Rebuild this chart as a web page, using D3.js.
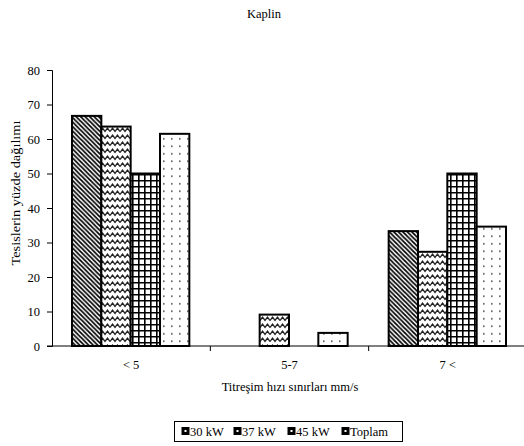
<!DOCTYPE html>
<html><head><meta charset="utf-8">
<script src="https://cdn.jsdelivr.net/npm/d3@7"></script>
<style>body{margin:0;background:#fff}svg{display:block}text{font-family:"Liberation Serif","Times New Roman",serif;fill:#000}</style>
</head><body>
<script>
const categories = ["< 5", "5-7", "7 <"];
const seriesNames = ["30 kW", "37 kW", "45 kW", "Toplam"];
const s30 = [66.7, 0, 33.3];
const s37 = [63.6, 9.1, 27.3];
const s45 = [50, 0, 50];
const sTop = [61.5, 3.8, 34.6];
const yTicks = [0, 10, 20, 30, 40, 50, 60, 70, 80];
const title = "Kaplin";
const yLabel = "Tesislerin yüzde dağılımı";
const xLabel = "Titreşim hızı sınırları mm/s";

const seriesVals = [s30, s37, s45, sTop];
const W = 524, H = 446;
const FS = "12.5px";
const svg = d3.select("body").append("svg").attr("width", W).attr("height", H);
const defs = svg.append("defs");

// patterns
const p0 = defs.append("pattern").attr("id", "p0").attr("patternUnits", "userSpaceOnUse").attr("width", 4.5).attr("height", 4.5);
p0.append("rect").attr("width", 4.5).attr("height", 4.5).attr("fill", "#fff");
p0.append("path").attr("d", "M-1,-1 L5.5,5.5 M-1,3.5 L1,5.5 M3.5,-1 L5.5,1").attr("stroke", "#000").attr("stroke-width", 1.7);

const p1 = defs.append("pattern").attr("id", "p1").attr("patternUnits", "userSpaceOnUse").attr("width", 10).attr("height", 7);
p1.append("rect").attr("width", 10).attr("height", 7).attr("fill", "#fff");
p1.append("path").attr("d", "M0,5.5 L2.5,2 L5,5.5 L7.5,2 L10,5.5").attr("stroke", "#222").attr("stroke-width", 1.3).attr("fill", "none");

const p2 = defs.append("pattern").attr("id", "p2").attr("patternUnits", "userSpaceOnUse").attr("width", 6).attr("height", 6);
p2.append("rect").attr("width", 6).attr("height", 6).attr("fill", "#fff");
p2.append("path").attr("d", "M0,0.8 H6 M0.8,0 V6").attr("stroke", "#000").attr("stroke-width", 1.6);

const p3 = defs.append("pattern").attr("id", "p3").attr("patternUnits", "userSpaceOnUse").attr("width", 8).attr("height", 7.5);
p3.append("rect").attr("width", 8).attr("height", 7.5).attr("fill", "#fff");
p3.append("rect").attr("x", 3).attr("y", 3).attr("width", 1.6).attr("height", 1.6).attr("fill", "#555");

const fills = ["url(#p0)", "url(#p1)", "url(#p2)", "url(#p3)"];

const x0 = d3.scaleBand().domain(categories).range([52, 527]).paddingInner(0).paddingOuter(0);
const x1 = d3.scaleBand().domain(seriesNames).range([20, x0.bandwidth() - 21]).padding(0);
const y = d3.scaleLinear().domain([0, 80]).range([346, 70]);

// title
svg.append("text").attr("x", 264).attr("y", 18).attr("text-anchor", "middle").style("font-size", FS).text(title);

// bars
const g = svg.append("g");
categories.forEach((c, ci) => {
  seriesNames.forEach((s, si) => {
    const v = seriesVals[si][ci];
    if (v <= 0) return;
    g.append("rect")
      .attr("x", x0(c) + x1(s))
      .attr("y", y(v))
      .attr("width", x1.bandwidth())
      .attr("height", y(0) - y(v))
      .attr("fill", fills[si])
      .attr("stroke", "#000").attr("stroke-width", 2);
  });
});

// y axis
const yAxis = d3.axisLeft(y).tickValues(yTicks).tickSize(5).tickPadding(7);
const ya = svg.append("g").attr("transform", "translate(52,0)").call(yAxis);
ya.selectAll("text").style("font-size", FS).style("font-family", "Liberation Serif");
ya.selectAll("line,path").attr("stroke", "#000");

// x axis
const xa = svg.append("g").attr("transform", "translate(0,346)");
xa.append("line").attr("x1", 47).attr("x2", 527).attr("y1", 0).attr("y2", 0).attr("stroke", "#000");
categories.forEach((c, i) => {
  if (i > 0) xa.append("line").attr("x1", x0(c)).attr("x2", x0(c)).attr("y1", 0).attr("y2", 5).attr("stroke", "#000");
  xa.append("text").attr("x", x0(c) + x0.bandwidth() / 2).attr("y", 23).attr("text-anchor", "middle").style("font-size", FS).text(c);
});

// axis labels
svg.append("text").attr("x", 290).attr("y", 391).attr("text-anchor", "middle").style("font-size", FS).text(xLabel);
svg.append("text").attr("transform", "translate(20,193) rotate(-90) scale(1.15,1)").attr("text-anchor", "middle").style("font-size", FS).text(yLabel);

// legend
const lg = svg.append("g");
lg.append("rect").attr("x", 174.5).attr("y", 421.5).attr("width", 228).attr("height", 20).attr("fill", "#fff").attr("stroke", "#000").attr("stroke-width", 1);
const lx = [182, 234, 288, 342];
seriesNames.forEach((s, i) => {
  lg.append("rect").attr("x", lx[i] + 1).attr("y", 428.5).attr("width", 5).attr("height", 5).attr("fill", "#fff").attr("stroke", "#000").attr("stroke-width", 3);
  lg.append("text").attr("x", lx[i] + 8).attr("y", 435.5).style("font-size", FS).text(s);
});
</script>
</body></html>
